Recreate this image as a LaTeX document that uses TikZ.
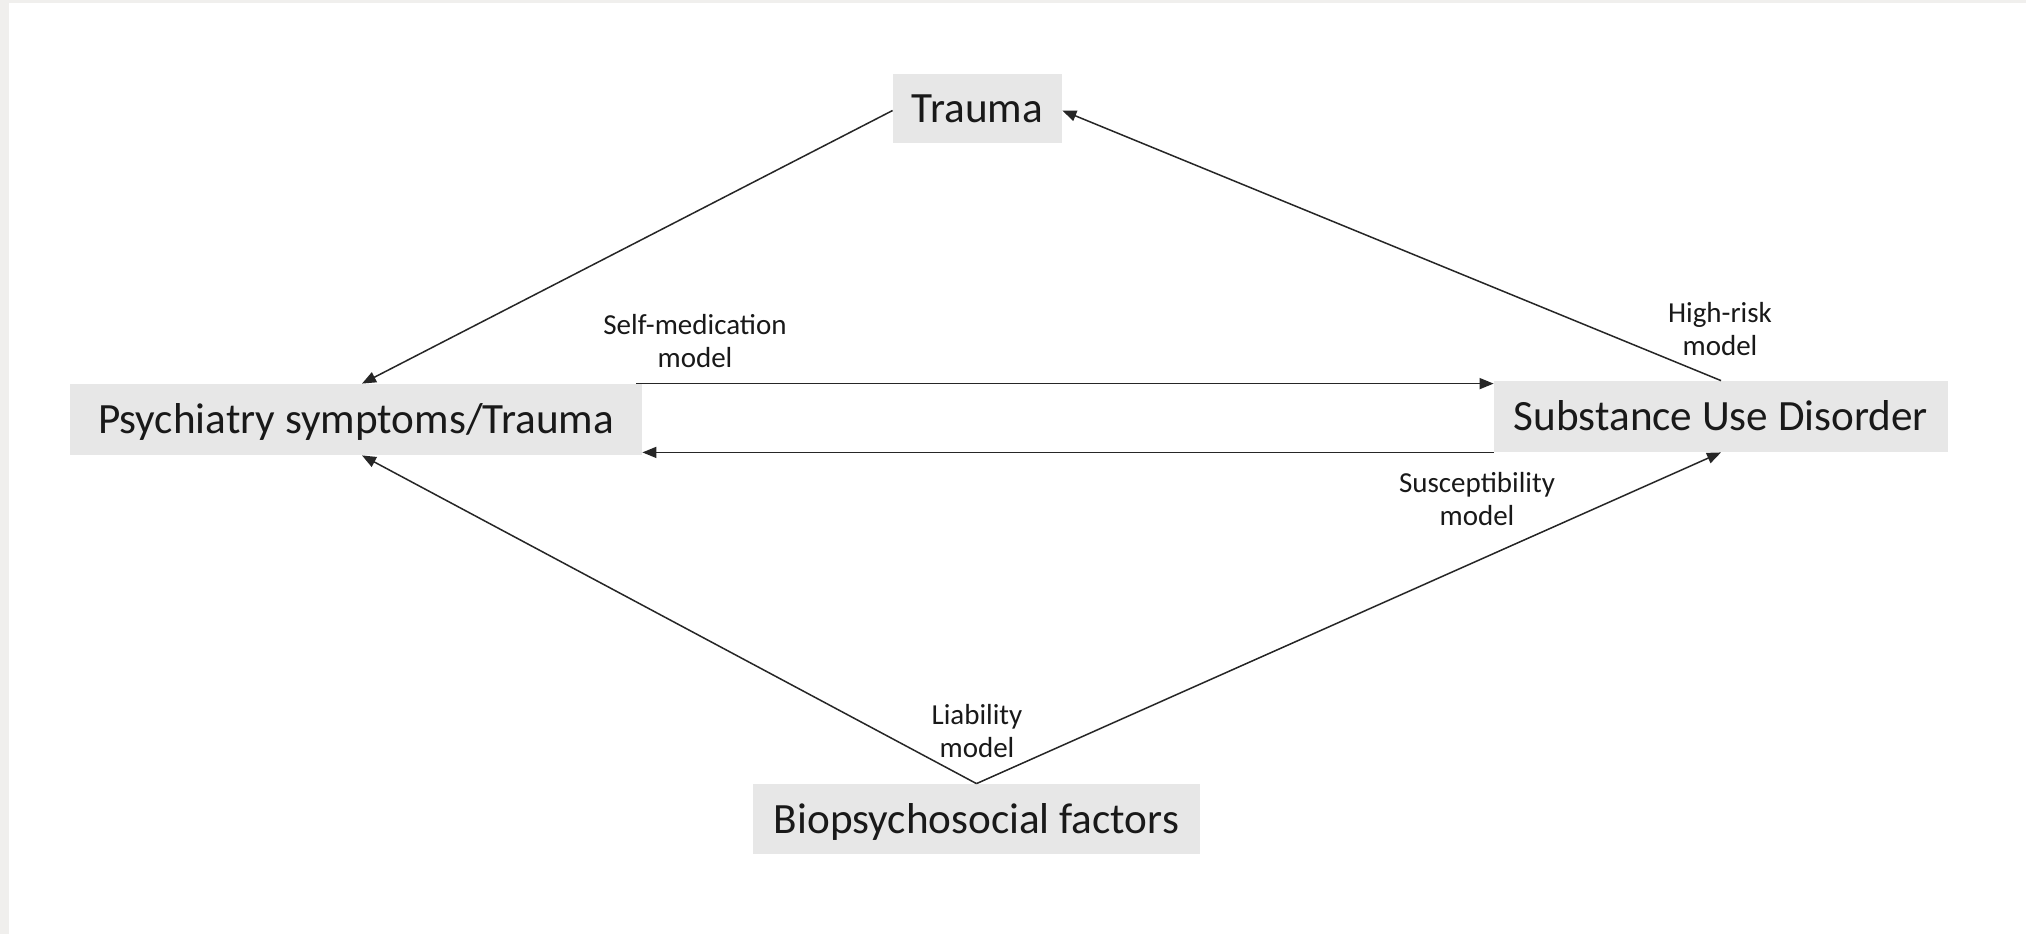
\documentclass[tikz,border=0pt]{standalone}
\usepackage{fontspec}
\setmainfont{Carlito}
\usetikzlibrary{arrows.meta,calc}
\definecolor{boxgray}{HTML}{E7E7E7}
\definecolor{framegray}{HTML}{F0EFED}
\begin{document}
\begin{tikzpicture}[x=0.5pt,y=-0.5pt,
  box/.style={rectangle,fill=boxgray,inner sep=0pt,text height=14pt,text depth=0pt,font=\fontsize{21.6pt}{25pt}\selectfont,text=black!90},
  lbl/.style={align=center,inner sep=0pt,font=\fontsize{14.5pt}{16.5pt}\selectfont,text=black!90},
  conn/.style={line width=0.75pt,draw=black!85,-{Triangle[length=7pt,width=5.5pt]}},
  plain/.style={line width=0.75pt,draw=black!85}]
\useasboundingbox (0,0) rectangle (2026,934);
\fill[white] (0,0) rectangle (2026,934);
\fill[framegray] (0,0) rectangle (9,934);
\fill[framegray] (0,0) rectangle (2026,3);

\node[box,minimum width=84.5pt,minimum height=34.5pt] (trauma) at (977.5,108.5) {Trauma};
\node[box,minimum width=286pt,minimum height=35.5pt] (psych) at (356,419.5) {Psychiatry symptoms/Trauma};
\node[box,minimum width=227pt,minimum height=35.5pt] (sud) at (1721,416.5) {Substance Use Disorder};
\node[box,minimum width=223.5pt,minimum height=35pt] (bio) at (976.5,819) {Biopsychosocial factors};

\draw[conn] ([yshift=-1pt]trauma.west) -- ([xshift=3pt]psych.north);
\draw[conn] (sud.north) -- ([yshift=-1pt]trauma.east);
\draw[conn] ([xshift=-3pt]psych.north east) -- (sud.west |- psych.north east);
\draw[conn] (sud.south west) -- (psych.east |- sud.south west);
\draw[conn] (bio.north) -- ([xshift=3pt]psych.south);
\draw[conn] (bio.north) -- (sud.south);

\node[lbl] (lself) at (695,341.5) {Self-medication\\model};
\node[lbl] (lhigh) at (1720,329.5) {High-risk\\model};
\node[lbl] (lsusc) at (1477,499) {Susceptibility\\model};
\node[lbl] (lliab) at (977,731.5) {Liability\\model};
\end{tikzpicture}
\end{document}
